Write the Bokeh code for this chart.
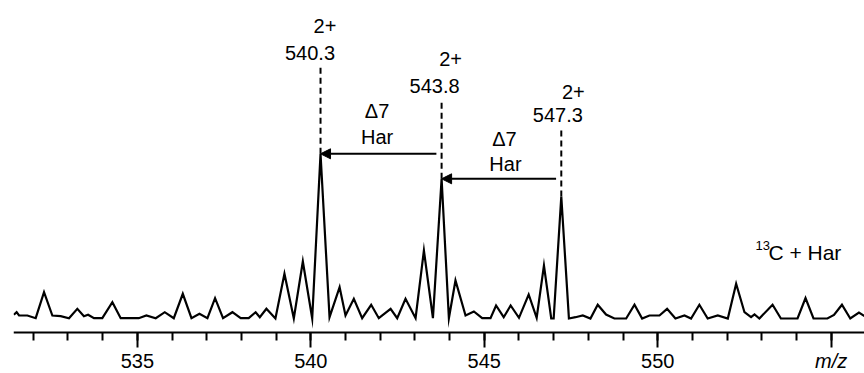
import numpy as np
from bokeh.plotting import figure
from bokeh.models import FixedTicker, Arrow, NormalHead, Label, ColumnDataSource, Range1d
from bokeh.core.properties import value
from bokeh.embed import file_html
from bokeh.resources import INLINE

# ---- data -------------------------------------------------------------------
mz = [531.44, 531.52, 531.59, 531.83, 532.07, 532.31, 532.55, 532.79, 533.03, 533.27,
      533.46, 533.58, 533.75, 533.99, 534.28, 534.52, 534.81, 535.04, 535.26, 535.53,
      535.79, 536.05, 536.31, 536.56, 536.79, 537.02, 537.24, 537.47, 537.74, 537.98,
      538.21, 538.41, 538.53, 538.72, 538.98, 539.24, 539.51, 539.77, 540.04, 540.28,
      540.54, 540.83, 541.00, 541.24, 541.48, 541.74, 541.96, 542.30, 542.49, 542.73,
      543.02, 543.26, 543.52, 543.77, 543.98, 544.17, 544.46, 544.70, 544.94, 545.18,
      545.34, 545.56, 545.76, 546.00, 546.28, 546.51, 546.72, 546.93, 547.00, 547.22,
      547.44, 547.63, 547.84, 548.06, 548.27, 548.51, 548.75, 549.09, 549.33, 549.55,
      549.76, 550.05, 550.27, 550.51, 550.77, 550.96, 551.20, 551.44, 551.73, 552.02,
      552.26, 552.50, 552.69, 552.79, 552.93, 553.31, 553.55, 554.03, 554.26, 554.49,
      554.89, 555.08, 555.31, 555.55, 555.80, 555.96]
intensity = [3.7, 6.3, 3.0, 3.0, 0.3, 26.3, 3.0, 2.3, 0.3, 9.7,
             2.3, 3.7, 0.3, 0.3, 16.3, 0.3, 0.3, 0.3, 3.0, 0.3,
             6.3, 0.3, 24.7, 0.3, 4.7, 0.3, 20.3, 0.3, 6.3, 0.3,
             0.3, 6.3, 1.3, 9.7, 0.0, 44.7, 0.0, 57.0, 0.0, 164.7,
             1.3, 31.3, 3.0, 19.7, 0.3, 13.7, 0.3, 9.7, 0.3, 19.7,
             0.3, 68.0, 0.3, 139.7, 0.3, 38.0, 3.0, 7.0, 0.3, 0.3,
             13.0, 1.3, 13.0, 0.7, 24.0, 0.7, 53.0, 0.0, 0.0, 122.0,
             0.0, 1.3, 3.0, 0.0, 13.7, 4.0, 0.0, 0.0, 13.7, 0.0,
             3.0, 3.0, 9.7, 0.0, 3.0, 0.0, 13.7, 0.0, 3.0, 0.0,
             34.7, 6.3, 1.3, 4.0, 0.0, 13.7, 0.0, 0.0, 20.5, 0.0,
             0.0, 3.5, 13.7, 0.0, 6.0, 2.5]

peak_labels = ["540.3", "543.8", "547.3"]
charge_labels = ["2+", "2+", "2+"]
shift_labels = ["\u03947", "\u03947"]
residue_labels = ["Har", "Har"]
major_ticks = [535, 540, 545, 550, 555]
minor_ticks = list(range(532, 556))
tick_labels = {535: "535", 540: "540", 545: "545", 550: "550", 555: ""}
axis_title = "m/z"
condition_sup = "13"
condition_text = "C + Har"

# ---- layout / style constants -------------------------------------------------
FONT = "Liberation Sans"
FS = "20px"
AXIS_Y = -13.7          # where the m/z axis line sits (below the baseline)

p = figure(width=864, height=373, output_backend="svg", toolbar_location=None,
           x_range=Range1d(531.43, 555.96), y_range=Range1d(-55, 318),
           y_axis_location=None, min_border_left=13, min_border_right=0,
           min_border_top=0, min_border_bottom=0)
p.outline_line_color = None
p.xgrid.grid_line_color = None
p.ygrid.grid_line_color = None
p.background_fill_color = "white"
p.border_fill_color = "white"

ax = p.xaxis[0]
ax.fixed_location = AXIS_Y
ax.ticker = FixedTicker(ticks=major_ticks, minor_ticks=minor_ticks)
ax.major_label_overrides = tick_labels
ax.axis_line_width = 2
ax.axis_line_color = "black"
ax.major_tick_line_width = 2
ax.minor_tick_line_width = 2
ax.major_tick_in = 0
ax.major_tick_out = 15
ax.minor_tick_in = 0
ax.minor_tick_out = 8
ax.major_label_standoff = 7
ax.major_label_text_font = FONT
ax.major_label_text_font_size = FS
ax.major_label_text_color = "black"

# spectrum
p.line(mz, intensity, line_color="black", line_width=2.2, line_join="miter")

# the three main peaks (the tallest maxima of the trace)
arr = np.array(intensity)
idx = sorted(np.argsort(arr)[::-1][:3])
pk_x = [mz[i] for i in idx]
pk_y = [intensity[i] for i in idx]

stem_top = [251, 216, 190]
p.segment(x0=pk_x, y0=pk_y, x1=pk_x, y1=stem_top, line_color="black",
          line_width=2, line_dash="6 4")

val_src = ColumnDataSource(dict(x=pk_x, y=[266, 233, 204], text=peak_labels,
                                dx=[-10.5, -7, -3.5]))
p.text(x="x", y="y", text="text", x_offset="dx", source=val_src,
       text_font=value(FONT), text_font_size=FS, text_align="center",
       text_baseline="middle", text_color="black")
chg_src = ColumnDataSource(dict(x=pk_x, y=[293, 260, 227], text=charge_labels,
                                dx=[4.5, 9, 12]))
p.text(x="x", y="y", text="text", x_offset="dx", source=chg_src,
       text_font=value(FONT), text_font_size=FS, text_align="center",
       text_baseline="middle", text_color="black")

# arrows between the peaks
mid_x = [(pk_x[i] + pk_x[i + 1]) / 2 for i in range(2)]
for i in range(2):
    p.add_layout(Arrow(end=NormalHead(size=10, fill_color="black", line_color="black",
                                      line_width=1),
                       x_start=pk_x[i + 1] - 0.15, y_start=pk_y[i],
                       x_end=pk_x[i], y_end=pk_y[i],
                       line_color="black", line_width=2))

sh_src = ColumnDataSource(dict(x=mid_x, y=[208, 180], text=shift_labels, dx=[-4, 3]))
p.text(x="x", y="y", text="text", x_offset="dx", source=sh_src,
       text_font=value(FONT), text_font_size=FS, text_align="center",
       text_baseline="middle", text_color="black")
res_src = ColumnDataSource(dict(x=mid_x, y=[182, 155], text=residue_labels, dx=[-4, 4]))
p.text(x="x", y="y", text="text", x_offset="dx", source=res_src,
       text_font=value(FONT), text_font_size=FS, text_align="center",
       text_baseline="middle", text_color="black")

# condition label
p.add_layout(Label(x=552.82, y=73, text=condition_sup, text_font=FONT,
                   text_font_size="13px", text_align="left", text_baseline="middle",
                   text_color="black"))
p.add_layout(Label(x=553.19, y=66, text=condition_text, text_font=FONT,
                   text_font_size="21px", text_align="left", text_baseline="middle",
                   text_color="black"))

# axis title placed at the 555 tick, in the tick-label row
p.add_layout(Label(x=555, y=AXIS_Y - 18, text=axis_title,
                   text_font=FONT, text_font_size=FS, text_font_style="italic",
                   text_align="center", text_baseline="top", text_color="black"))

open("out.html", "w").write(file_html(p, INLINE))
